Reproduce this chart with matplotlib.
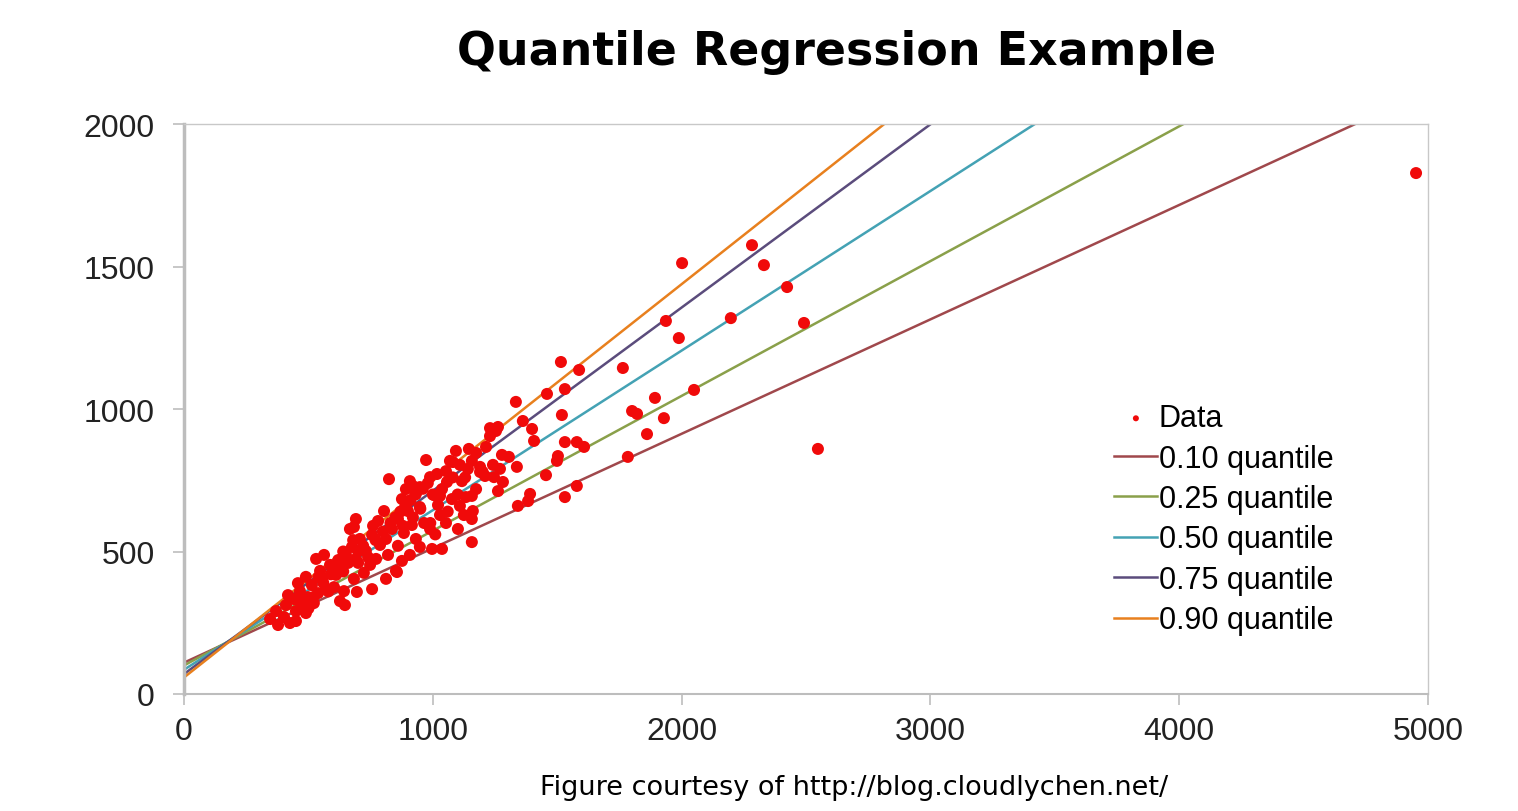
import numpy as np
import matplotlib
matplotlib.use("Agg")
import matplotlib.pyplot as plt

# scatter data
data_x = [378, 402, 426, 450, 410, 442, 474, 466, 498, 514, 539, 555, 571, 450, 490,
          522, 547, 587, 611, 627, 458, 490, 531, 563, 603, 643, 418, 346, 370, 627,
          695, 651, 675, 691, 707, 731, 756, 667, 683, 723, 748, 772, 788, 812, 820,
          836, 860, 884, 900, 916, 932, 948, 780, 804, 691, 683, 647, 756, 812, 852,
          876, 908, 948, 997, 965, 824, 973, 1157, 1037, 856, 876, 892, 908, 932, 948,
          989, 1005, 1021, 1037, 1053, 1069, 1093, 1109, 1117, 1141, 1157, 1174, 1190, 1214, 1230,
          1254, 1270, 1278, 1246, 1174, 1133, 1077, 1029, 989, 1053, 1101, 1157, 1125, 1515, 1588,
          1764, 1459, 1531, 1334, 1893, 1801, 1821, 1519, 1362, 1399, 1407, 1861, 1929, 1230, 1262,
          1145, 1306, 1338, 1531, 1579, 1608, 1503, 1499, 1455, 1784, 1017, 1081, 1190, 1210, 1242,
          1157, 1262, 1282, 1579, 1531, 1391, 1342, 1383, 1109, 1161, 920, 1057, 1029, 2050, 1989,
          1937, 2198, 2002, 2283, 2331, 2424, 2492, 2548, 4952,
          520, 560, 590, 610, 640, 660, 700, 720, 740, 770, 800, 830, 850, 870, 890,
          910, 930, 960, 980, 1000, 620, 580, 540, 500, 460, 640, 680, 700, 760, 860,
          880, 920, 950, 990, 1010, 1060, 1100, 1080, 1130, 1200]
data_y = [242, 270, 249, 291, 312, 333, 312, 361, 340, 382, 354, 404, 368, 256, 284,
          319, 432, 453, 418, 467, 389, 411, 474, 488, 375, 361, 347, 263, 291, 326,
          358, 488, 516, 474, 544, 502, 558, 579, 404, 425, 453, 474, 523, 544, 488,
          579, 614, 565, 642, 593, 544, 656, 607, 642, 614, 586, 312, 368, 404, 432,
          467, 488, 516, 509, 600, 754, 821, 533, 509, 428, 684, 719, 747, 702, 726,
          761, 698, 663, 719, 782, 818, 853, 804, 747, 790, 818, 846, 797, 867, 905,
          923, 790, 839, 761, 719, 691, 684, 628, 579, 600, 579, 614, 628, 1165, 1137,
          1144, 1053, 1070, 1025, 1039, 993, 983, 979, 958, 930, 888, 912, 968, 933, 937,
          860, 832, 797, 884, 884, 867, 835, 818, 768, 832, 772, 814, 779, 765, 804,
          695, 712, 744, 730, 691, 702, 660, 677, 660, 642, 730, 744, 695, 1067, 1249,
          1309, 1319, 1512, 1575, 1505, 1428, 1302, 860, 1828,
          340, 390, 420, 440, 430, 460, 500, 520, 480, 540, 570, 600, 620, 640, 660,
          680, 700, 720, 740, 700, 470, 360, 410, 300, 330, 500, 540, 460, 590, 520,
          590, 620, 650, 600, 560, 640, 700, 760, 760, 780]

# fitted quantile lines: intercept, slope
quantiles = ["0.10", "0.25", "0.50", "0.75", "0.90"]
intercepts = [110, 100, 85, 70, 58]
slopes = [0.4015, 0.473, 0.56, 0.643, 0.690]
line_colors = ["#A0484C", "#8AA04A", "#44A2B4", "#5B4C7C", "#E8801E"]

fig = plt.figure(figsize=(15.18, 8.12), dpi=100)
ax = fig.add_axes([0.1212, 0.1441, 0.8195, 0.7019])

xs = np.array([0, 5000])
for q, b, m, c in zip(quantiles, intercepts, slopes, line_colors):
    ax.plot(xs, b + m * xs, color=c, lw=1.8, label=q + " quantile", zorder=2)

ax.scatter(data_x, data_y, s=75, color="#F00A0A", edgecolors="none", label="Data", zorder=3)

ax.set_xlim(0, 5000)
ax.set_ylim(0, 2000)
ax.set_xticks(range(0, 5001, 1000))
ax.set_yticks(range(0, 2001, 500))

for s in ["top", "right"]:
    ax.spines[s].set_color("#C8C8C8")
    ax.spines[s].set_linewidth(1.0)
ax.spines["left"].set_color("#BDBDBD")
ax.spines["left"].set_linewidth(2.5)
ax.spines["bottom"].set_color("#BDBDBD")
ax.spines["bottom"].set_linewidth(1.5)
ax.tick_params(axis="both", colors="#BDBDBD", length=8, width=1.2,
               labelcolor="#222222", labelsize=23)
ax.tick_params(axis="y", pad=13)
ax.tick_params(axis="x", pad=8)
for lab in ax.get_xticklabels() + ax.get_yticklabels():
    lab.set_fontfamily("Liberation Sans")

handles, labels = ax.get_legend_handles_labels()
order = [5, 0, 1, 2, 3, 4]
leg = ax.legend([handles[i] for i in order], [labels[i] for i in order],
                loc="upper left", bbox_to_anchor=(0.748, 0.51), frameon=False,
                prop={"family": "Liberation Sans", "size": 22},
                handlelength=1.4, handletextpad=0.05, labelspacing=0.34,
                borderpad=0, borderaxespad=0, markerscale=0.5)

fig.text(0.551, 0.935, "Quantile Regression Example", ha="center", va="center",
         fontsize=33, fontweight="bold", family="DejaVu Sans")
fig.text(0.5625, 0.03, "Figure courtesy of http://blog.cloudlychen.net/", ha="center",
         va="center", fontsize=19.5, family="DejaVu Sans")

fig.savefig("out.png", dpi=100)
